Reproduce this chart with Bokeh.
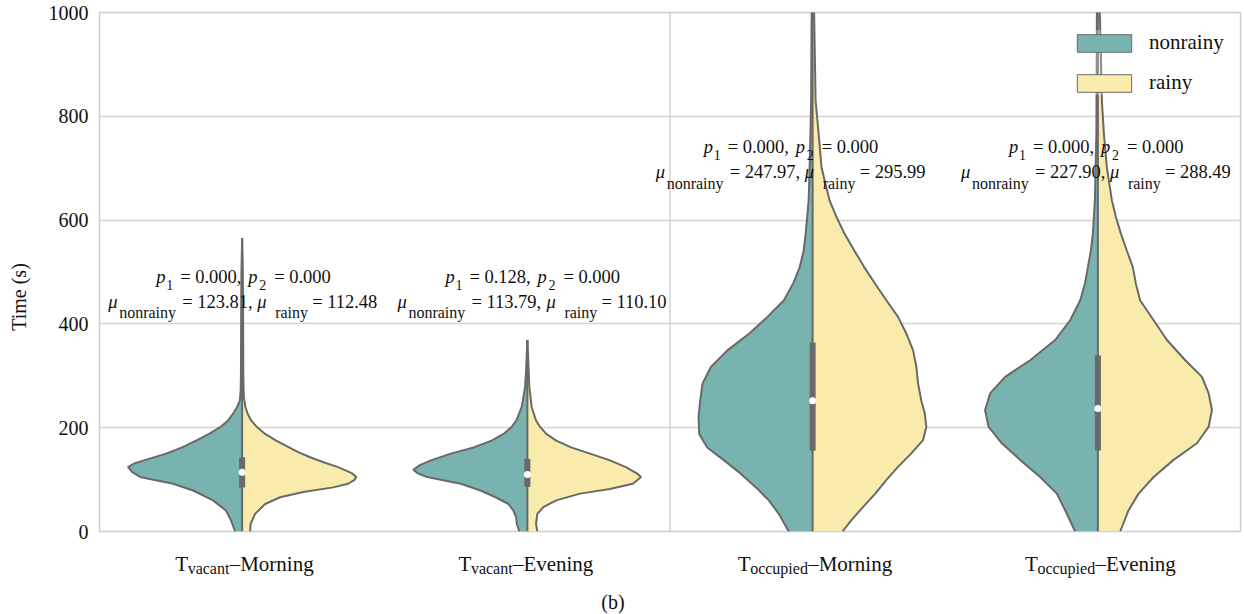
from bokeh.plotting import figure
from bokeh.layouts import column
from bokeh.models import Range1d, Span, Label, FixedTicker, Legend, LegendItem, ColumnDataSource
from bokeh.embed import file_html
from bokeh.resources import INLINE

# ---------------- data ----------------
CONDITIONS = ["vacant", "vacant", "occupied", "occupied"]
PERIODS = ["Morning", "Evening", "Morning", "Evening"]
GROUPS = ["nonrainy", "rainy"]

# violin half-profiles: time values (s) and relative density (width)
VM_NR_Y = [0, 21, 40, 60, 79, 92, 105, 115, 124, 131, 137, 150, 162, 175, 188, 201, 214, 227, 240, 252, 270, 300, 400, 500, 565]
VM_NR_W = [7, 11, 16, 29, 49, 69, 102, 110, 114, 108, 98, 76, 60, 46, 33, 22, 14, 9, 5, 2.3, 1.5, 1.2, 1, 0.7, 0]
VM_R_Y = [0, 15, 34, 53, 66, 76, 85, 92, 99, 105, 112, 124, 133, 143, 153, 163, 175, 188, 201, 214, 227, 240, 259, 280, 300, 400, 500, 565]
VM_R_W = [8, 8.5, 13, 23, 38, 61, 91, 106, 112, 114, 110, 96, 82, 68, 56, 46, 34, 23, 15, 9, 5.5, 3.3, 1.7, 1.4, 1.2, 1, 0.7, 0]

VE_NR_Y = [0, 15, 28, 40, 53, 66, 79, 92, 105, 112, 119, 128, 137, 150, 162, 175, 188, 201, 214, 240, 278, 310, 369]
VE_NR_W = [8, 10.7, 11.3, 14, 19, 32, 47, 67, 101, 110, 114.7, 108, 97, 77, 54, 36, 24, 16, 11, 5.7, 2.3, 1.3, 0]
VE_R_Y = [0, 15, 34, 47, 60, 73, 82, 92, 105, 112, 124, 137, 150, 162, 175, 188, 201, 214, 240, 278, 310, 369]
VE_R_W = [10, 8.7, 10, 16, 29, 53, 83, 106, 114.3, 110, 99, 83, 63, 44, 29, 19, 13, 8.7, 4.3, 2, 1.3, 0]

OM_NR_Y = [0, 34, 60, 85, 111, 137, 162, 188, 220, 252, 285, 317, 349, 381, 413, 445, 480, 509, 541, 574, 638, 701, 830, 1000, 1060]
OM_NR_W = [24, 34, 44, 57, 72, 89, 106, 114, 114.7, 113, 110.7, 102.3, 85.7, 64, 45.7, 29, 19, 13, 9, 7, 4, 3, 1.5, 1, 1]
OM_R_Y = [0, 22, 48, 73, 99, 125, 150, 176, 202, 228, 252, 285, 317, 349, 381, 413, 445, 477, 509, 541, 574, 606, 638, 701, 767, 830, 1000, 1060]
OM_R_W = [30, 39, 51, 63, 74, 86, 99, 111, 114.3, 112.7, 109.3, 106, 104.3, 101, 94.3, 86, 74.3, 63, 52, 42, 32, 24, 17, 9, 6, 3, 1.5, 1.2]

OE_NR_Y = [0, 41, 73, 105, 138, 170, 202, 234, 266, 298, 330, 369, 407, 445, 477, 509, 541, 574, 638, 767, 1000, 1060]
OE_NR_W = [22.7, 32.7, 41, 57.7, 77.7, 96, 109.3, 112.7, 107.7, 92.7, 67.7, 42.7, 27.7, 17.7, 13, 10, 7, 5, 3, 1.5, 1, 1]
OE_R_Y = [0, 41, 73, 105, 138, 170, 202, 234, 266, 298, 330, 369, 407, 445, 477, 509, 541, 574, 606, 638, 701, 767, 830, 1000, 1060]
OE_R_W = [22.3, 30.7, 40.7, 55.7, 75.7, 99, 110.7, 114, 110.7, 104, 87.3, 69, 55.7, 42.3, 38, 35, 29, 23, 18, 14, 9, 6, 4, 2, 1.5]

# inner box (quartiles and median, s)
Q1 = [85, 86, 156, 156]
Q3 = [143, 140, 364, 339]
MEDIAN = [114, 110, 252, 237]

# annotation texts
P1 = ["0.000", "0.128", "0.000", "0.000"]
P2 = ["0.000", "0.000", "0.000", "0.000"]
MU_NONRAINY = ["123.81", "113.79", "247.97", "227.90"]
MU_RAINY = ["112.48", "110.10", "295.99", "288.49"]
ANN_Y = [491, 491, 740, 740]

Y_TICKS = [0, 200, 400, 600, 800, 1000]
Y_LABEL = "Time (s)"
CAPTION = "(b)"

# ---------------- style ----------------
FONT = "Liberation Serif"
TEAL = "#78b3b0"
YELLOW = "#f8ebab"
EDGE = "#696969"
GRID = "#d3d3d3"
TXT = "#111111"

profiles = [
    (VM_NR_Y, VM_NR_W, VM_R_Y, VM_R_W),
    (VE_NR_Y, VE_NR_W, VE_R_Y, VE_R_W),
    (OM_NR_Y, OM_NR_W, OM_R_Y, OM_R_W),
    (OE_NR_Y, OE_NR_W, OE_R_Y, OE_R_W),
]

xr = Range1d(-0.5, 3.5)
p = figure(width=1244, height=545, output_backend="svg", toolbar_location=None,
           x_range=xr, y_range=Range1d(0, 1000),
           min_border_left=99, min_border_right=4, min_border_top=12, min_border_bottom=14)
p.background_fill_color = "white"
p.border_fill_color = "white"
p.outline_line_color = "#cccccc"
p.outline_line_width = 1.5

p.xaxis.visible = False
p.xgrid.visible = False
p.yaxis.ticker = FixedTicker(ticks=Y_TICKS)
p.ygrid.ticker = FixedTicker(ticks=Y_TICKS)
p.ygrid.grid_line_color = GRID
p.ygrid.grid_line_width = 1.5
ax = p.yaxis[0]
ax.axis_line_color = None
ax.major_tick_line_color = None
ax.minor_tick_line_color = None
ax.major_tick_out = 0
ax.major_tick_in = 0
ax.major_label_standoff = 11
ax.major_label_text_font = FONT
ax.major_label_text_font_size = "20px"
ax.major_label_text_color = TXT
# trailing no-break spaces move the rotated title a little lower, as in the original
ax.axis_label = Y_LABEL + "\u00a0" * 10
ax.axis_label_text_font = FONT
ax.axis_label_text_font_size = "20px"
ax.axis_label_text_font_style = "normal"
ax.axis_label_text_color = TXT
ax.axis_label_standoff = 16

p.add_layout(Span(location=1.5, dimension="height", line_color=GRID, line_width=1.5))

HALF = 0.4
for i, (nry, nrw, ry, rw) in enumerate(profiles):
    s = HALF / max(max(nrw), max(rw))
    lx = [i - w * s for w in nrw]
    p.patch(lx + [i, i], nry + [nry[-1], nry[0]], fill_color=TEAL, line_color=None)
    p.line(lx + [i], nry + [nry[-1]], line_color=EDGE, line_width=2)
    rx = [i + w * s for w in rw]
    p.patch(rx + [i, i], ry + [ry[-1], ry[0]], fill_color=YELLOW, line_color=None)
    p.line(rx + [i], ry + [ry[-1]], line_color=EDGE, line_width=2)
    top = max(max(nry), max(ry))
    p.segment(x0=[i], y0=[0], x1=[i], y1=[top], line_color=EDGE, line_width=2)
    p.segment(x0=[i], y0=[Q1[i]], x1=[i], y1=[Q3[i]], line_color=EDGE, line_width=6)
    p.scatter(x=[i], y=[MEDIAN[i]], size=7, fill_color="white", line_color=None)


def rich(fig, x, y, segs, x0=0, y0=0):
    for text, dx, dy, size, style in segs:
        fig.add_layout(Label(x=x, y=y, x_offset=x0 + dx, y_offset=y0 + dy, text=text,
                             text_font=FONT, text_font_size=f"{size}px", text_font_style=style,
                             text_color=TXT, text_align="left", text_baseline="alphabetic"))


ANN_DX = [3, 7, -20, 0]
MAIN, SUBD, SUBW = 18.5, 14, 16
for i in range(4):
    line1 = [("p", -89, 0, MAIN, "italic"), ("1", -79, -8, SUBD, "normal"),
             (f"= {P1[i]},", -65, 0, MAIN, "normal"),
             ("p", 3, 0, MAIN, "italic"), ("2", 14, -8, SUBD, "normal"),
             (f"= {P2[i]}", 29, 0, MAIN, "normal")]
    line2 = [("\u03bc", -137, 0, MAIN, "italic"), ("nonrainy", -126, -11, SUBW, "normal"),
             (f"= {MU_NONRAINY[i]},", -63, 0, MAIN, "normal"),
             ("\u03bc", 12, 0, MAIN, "italic"), ("rainy", 30, -11, SUBW, "normal"),
             (f"= {MU_RAINY[i]}", 67, 0, MAIN, "normal")]
    rich(p, i, ANN_Y[i], line1, x0=ANN_DX[i])
    rich(p, i, ANN_Y[i], line2, x0=ANN_DX[i], y0=-25)

# legend (proxy glyphs with no visible data)
nan = float("nan")
proxy = ColumnDataSource(dict(l=[nan], r=[nan], t=[nan], b=[nan]))
leg_nr = p.quad(left="l", right="r", top="t", bottom="b", source=proxy,
                fill_color=TEAL, line_color=EDGE, line_width=1)
leg_r = p.quad(left="l", right="r", top="t", bottom="b", source=proxy,
               fill_color=YELLOW, line_color=EDGE, line_width=1)
legend = Legend(items=[LegendItem(label=GROUPS[0], renderers=[leg_nr]),
                       LegendItem(label=GROUPS[1], renderers=[leg_r])],
                location=(971, 436), glyph_width=68, glyph_height=22, label_standoff=11,
                spacing=15, padding=0, margin=0, label_height=18,
                label_text_font=FONT, label_text_font_size="21px", label_text_color=TXT,
                border_line_color=None, background_fill_color="white", background_fill_alpha=0.25)
p.add_layout(legend)

# ---------- category labels strip below the axes ----------
q = figure(width=1244, height=69, output_backend="svg", toolbar_location=None,
           x_range=xr, y_range=Range1d(0, 69),
           min_border_left=99, min_border_right=4, min_border_top=0, min_border_bottom=0)
q.xaxis.visible = False
q.yaxis.visible = False
q.grid.visible = False
q.outline_line_color = None
q.background_fill_color = "white"
q.border_fill_color = "white"

TICK_DX = [(-67, -54.5, -12.5), (-69, -56.5, -14.5), (-75, -62.5, -4.5), (-73, -60.5, -2.5)]
for i in range(4):
    a, b, c = TICK_DX[i]
    rich(q, i, 51, [("T", a, 0, 21, "normal"), (CONDITIONS[i], b, -5, 16, "normal"),
                    ("\u2013" + PERIODS[i], c, 0, 21, "normal")])

q.add_layout(Label(x=1.3, y=13, text=CAPTION, text_font=FONT, text_font_size="20px",
                   text_color=TXT, text_align="center", text_baseline="alphabetic"))

layout = column(p, q, spacing=0)
open("out.html", "w").write(file_html(layout, INLINE))
